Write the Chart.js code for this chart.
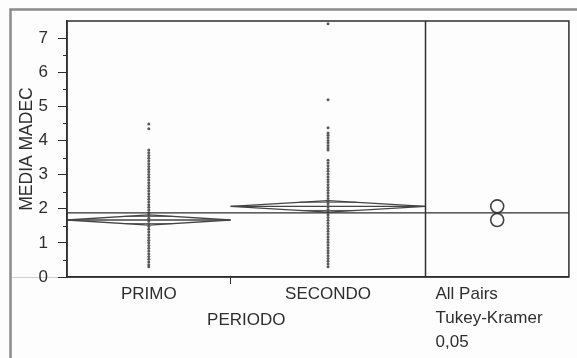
<!DOCTYPE html>
<html lang="it">
<head>
    <meta charset="UTF-8">
    <title>MEDIA MADEC per PERIODO</title>
    <script src="https://cdn.jsdelivr.net/npm/chart.js@4"></script>
    <style>
        body {
            margin: 0;
            background-color: #fdfdfd;
        }
        #wrap {
            position: relative;
            width: 577px;
            height: 358px;
        }
    </style>
</head>
<body>
    <div id="wrap">
        <canvas id="oneway" width="577" height="358"></canvas>
    </div>

    <script>
        // Data
        const groups = ['PRIMO', 'SECONDO'];
        const groupN = [47, 56];   // group widths are proportional to sample size
        const primoValues = [4.48, 4.34, 3.72, 3.64, 3.56, 3.48, 3.4, 3.32, 3.24, 3.16, 3.08, 3.0, 2.92, 2.84,
            2.76, 2.68, 2.6, 2.52, 2.44, 2.36, 2.28, 2.2, 2.12, 2.04, 1.96, 1.88, 1.8, 1.72, 1.64, 1.56, 1.48,
            1.4, 1.32, 1.24, 1.16, 1.08, 1.0, 0.92, 0.84, 0.76, 0.68, 0.6, 0.52, 0.44, 0.36, 0.3];
        const secondoValues = [7.42, 5.19, 4.37, 4.22, 4.15, 4.08, 4.0, 3.93, 3.85, 3.78, 3.72, 3.42, 3.34, 3.26,
            3.18, 3.1, 3.02, 2.94, 2.86, 2.78, 2.7, 2.62, 2.54, 2.46, 2.38, 2.3, 2.22, 2.14, 2.06, 1.98, 1.9,
            1.82, 1.74, 1.66, 1.58, 1.5, 1.42, 1.34, 1.26, 1.18, 1.1, 1.02, 0.94, 0.86, 0.78, 0.7, 0.62, 0.54,
            0.46, 0.38, 0.3];
        const groupMeans = [1.67, 2.07];
        const ciLower = [1.52, 1.90];
        const ciUpper = [1.82, 2.24];
        const grandMean = 1.88;
        const yMax = 7.5;
        const panelLabels = ['All Pairs', 'Tukey-Kramer', '0,05'];

        const ink = '#2e2e2e';
        const fontFamily = '"Liberation Sans", Arial, sans-serif';
        const fontSize = 17;

        // x layout: main plot 0..1, comparison-circle panel 1..1.4
        const totalN = groupN.reduce((a, b) => a + b, 0);
        const bounds = [0];
        groupN.forEach(n => bounds.push(bounds[bounds.length - 1] + n / totalN));
        const centers = groups.map((g, i) => (bounds[i] + bounds[i + 1]) / 2);
        const panelEnd = 1.4;
        const circleX = (1 + panelEnd) / 2;

        const datasets = [];

        // grand mean line across plot and panel
        datasets.push({
            data: [{ x: 0, y: grandMean }, { x: panelEnd, y: grandMean }],
            showLine: true, borderColor: ink, borderWidth: 1.2, pointRadius: 0
        });

        // means diamonds with overlap marks
        groups.forEach((g, i) => {
            const l = bounds[i], r = bounds[i + 1], c = centers[i];
            const m = groupMeans[i];
            datasets.push({
                data: [{ x: l, y: m }, { x: c, y: ciUpper[i] }, { x: r, y: m }, { x: c, y: ciLower[i] }, { x: l, y: m }],
                showLine: true, borderColor: '#444', borderWidth: 1.3, pointRadius: 0
            });
            datasets.push({
                data: [{ x: l, y: m }, { x: r, y: m }],
                showLine: true, borderColor: '#444', borderWidth: 1.3, pointRadius: 0
            });
            const k = 1 / Math.SQRT2;
            [ciUpper[i], ciLower[i]].forEach(edge => {
                const yy = m + (edge - m) * k;
                const half = (r - l) / 2 * (1 - k);
                datasets.push({
                    data: [{ x: c - half, y: yy }, { x: c + half, y: yy }],
                    showLine: true, borderColor: '#555', borderWidth: 1, pointRadius: 0
                });
            });
        });

        // raw points
        [primoValues, secondoValues].forEach((vals, i) => {
            datasets.push({
                data: vals.map(v => ({ x: centers[i], y: v })),
                pointRadius: 1.5, pointBackgroundColor: '#5a5a5a', pointBorderWidth: 0
            });
        });

        // comparison circles
        datasets.push({
            data: groupMeans.map(m => ({ x: circleX, y: m })),
            pointRadius: 6.5, pointBackgroundColor: 'rgba(0,0,0,0)',
            pointBorderColor: '#444', pointBorderWidth: 1.6
        });

        const framePlugin = {
            id: 'frame',
            beforeDraw(chart) {
                const c = chart.ctx;
                c.save();
                c.fillStyle = '#fdfdfd';
                c.fillRect(0, 0, chart.width, chart.height);
                // outer report frame
                c.strokeStyle = '#8a8a8a';
                c.lineWidth = 2.5;
                c.beginPath();
                c.moveTo(10.5, chart.height);
                c.lineTo(10.5, 9.5);
                c.lineTo(chart.width, 9.5);
                c.stroke();
                // faint zero reference to the left of the axis
                const y0 = chart.scales.y.getPixelForValue(0);
                c.strokeStyle = '#d0d0d0';
                c.lineWidth = 1;
                c.beginPath();
                c.moveTo(12, y0 + 0.5);
                c.lineTo(chart.chartArea.left, y0 + 0.5);
                c.stroke();
                c.restore();
            },
            afterDraw(chart) {
                const c = chart.ctx;
                const a = chart.chartArea;
                const xs = chart.scales.x, ys = chart.scales.y;
                c.save();
                c.strokeStyle = ink;
                c.lineWidth = 1.5;
                c.strokeRect(a.left, a.top, a.right - a.left, a.bottom - a.top);
                const xd = xs.getPixelForValue(1);
                c.beginPath();
                c.moveTo(xd, a.top);
                c.lineTo(xd, a.bottom);
                c.stroke();
                // minor y ticks
                c.lineWidth = 1;
                for (let v = 0.5; v < yMax; v += 1) {
                    const py = Math.round(ys.getPixelForValue(v)) + 0.5;
                    c.beginPath();
                    c.moveTo(a.left - 4, py);
                    c.lineTo(a.left, py);
                    c.stroke();
                }
                // axis title and test labels
                c.fillStyle = ink;
                c.font = fontSize + 'px ' + fontFamily;
                c.textAlign = 'center';
                c.textBaseline = 'middle';
                c.fillText('PERIODO', xs.getPixelForValue(0.5), 320);
                c.textAlign = 'left';
                panelLabels.forEach((t, i) => {
                    c.fillText(t, xd + 10, 294 + i * 24);
                });
                c.restore();
            }
        };

        new Chart(document.getElementById('oneway'), {
            type: 'scatter',
            data: { datasets },
            options: {
                responsive: false,
                animation: false,
                devicePixelRatio: 1,
                layout: { padding: { left: 10, top: 21, right: 6, bottom: 0 } },
                plugins: {
                    legend: { display: false },
                    tooltip: { enabled: false }
                },
                scales: {
                    x: {
                        type: 'linear',
                        min: 0,
                        max: panelEnd,
                        afterFit: s => { s.height = 81; },
                        afterBuildTicks: s => {
                            s.ticks = [{ value: centers[0] }, { value: bounds[1] }, { value: centers[1] }];
                        },
                        ticks: {
                            autoSkip: false,
                            maxRotation: 0,
                            padding: 0,
                            color: ink,
                            font: { family: fontFamily, size: fontSize },
                            callback: (v, i) => (i === 1 ? '' : groups[i === 0 ? 0 : 1])
                        },
                        grid: {
                            drawOnChartArea: false,
                            tickLength: 7,
                            tickColor: ctx => (ctx.index === 1 ? ink : 'rgba(0,0,0,0)')
                        },
                        border: { color: ink, width: 1.5 }
                    },
                    y: {
                        min: 0,
                        max: yMax,
                        afterFit: s => { s.width = 57; },
                        ticks: {
                            stepSize: 0.5,
                            padding: 10,
                            color: ink,
                            font: { family: fontFamily, size: fontSize },
                            callback: v => (v % 1 === 0 ? v : '')
                        },
                        grid: {
                            drawOnChartArea: false,
                            tickLength: 9,
                            tickColor: ctx => (ctx.tick && ctx.tick.value % 1 === 0 ? ink : 'rgba(0,0,0,0)')
                        },
                        border: { color: ink, width: 1.5 },
                        title: {
                            display: true,
                            text: 'MEDIA MADEC',
                            color: ink,
                            font: { family: fontFamily, size: fontSize + 0.5 },
                            padding: { top: 7, bottom: 0 }
                        }
                    }
                }
            },
            plugins: [framePlugin]
        });
    </script>
</body>
</html>
